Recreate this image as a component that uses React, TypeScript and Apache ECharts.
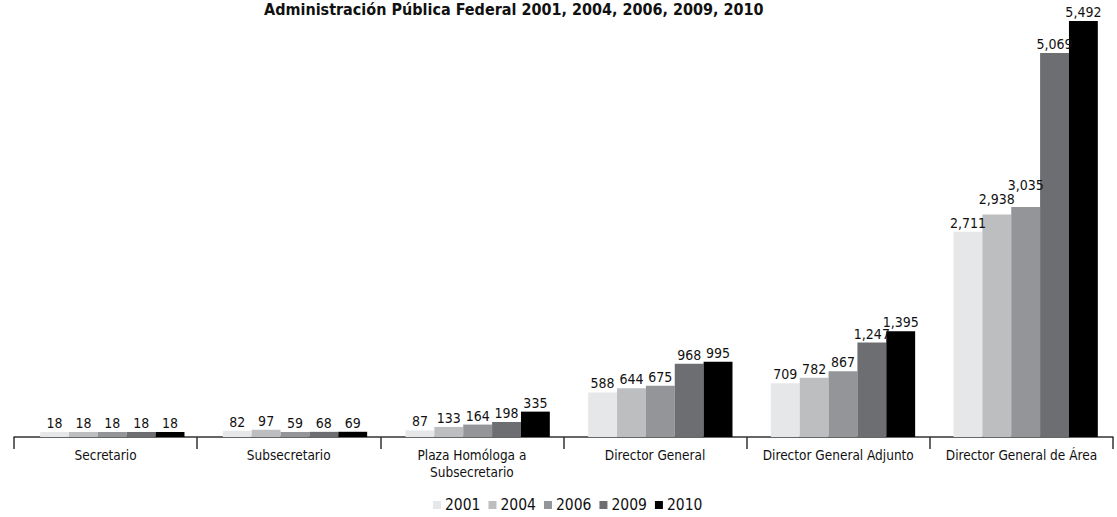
import React, { useEffect, useRef } from "react";
import * as echarts from "echarts";

const categories = [
  "Secretario",
  "Subsecretario",
  "Plaza Homóloga a\nSubsecretario",
  "Director General",
  "Director General Adjunto",
  "Director General de Área",
];
const years = ["2001", "2004", "2006", "2009", "2010"];
const v2001 = [18, 82, 87, 588, 709, 2711];
const v2004 = [18, 97, 133, 644, 782, 2938];
const v2006 = [18, 59, 164, 675, 867, 3035];
const v2009 = [18, 68, 198, 968, 1247, 5069];
const v2010 = [18, 69, 335, 995, 1395, 5492];
const seriesValues = [v2001, v2004, v2006, v2009, v2010];
const colors = ["#e6e7e8", "#bcbec0", "#939598", "#6d6e71", "#000000"];

// extra label lift (style only) to stagger crowded labels like the reference
const labelLift: Record<string, number> = { "1-5": 6, "2-5": 13 };

const FONT = "'DejaVu Sans Condensed', 'Liberation Sans Narrow', Roboto, sans-serif";

export default function App() {
  const ref = useRef<HTMLDivElement>(null);
  useEffect(() => {
    if (!ref.current) return;
    const chart = echarts.init(ref.current, undefined, { renderer: "svg" });
    chart.setOption({
      animation: false,
      textStyle: { fontFamily: FONT },
      title: {
        text: "Administración Pública Federal 2001, 2004, 2006, 2009, 2010",
        left: 264,
        top: 1,
        padding: 0,
        textStyle: { fontFamily: FONT, fontSize: 16, fontWeight: "bold", color: "#111" },
      },
      legend: {
        data: years,
        left: 433,
        top: 497,
        padding: 0,
        icon: "rect",
        itemWidth: 8,
        itemHeight: 8,
        itemGap: 8,
        textStyle: { fontFamily: FONT, fontSize: 15.5, color: "#111", padding: [0, 0, 0, -1] },
      },
      grid: [
        { left: 21, right: -3, top: 21, bottom: 80, containLabel: false },
        { left: 14, right: 4, top: 21, bottom: 80, containLabel: false },
      ],
      xAxis: [
        {
          type: "category",
          gridIndex: 0,
          data: categories,
          show: false,
        },
        {
          type: "category",
          gridIndex: 1,
          data: categories,
          offset: 3,
          axisLine: { lineStyle: { color: "#333", width: 1.5 } },
          axisTick: { show: true, length: 12, lineStyle: { color: "#333", width: 1.5 } },
          axisLabel: { fontFamily: FONT, fontSize: 13.5, color: "#111", margin: 6, lineHeight: 17, interval: 0 },
        },
      ],
      yAxis: [
        { type: "value", gridIndex: 0, min: 0, max: 5492, show: false, splitLine: { show: false } },
        { type: "value", gridIndex: 1, min: 0, max: 5492, show: false, splitLine: { show: false } },
      ],
      series: years.map((y, i) => ({
        name: y,
        type: "bar",
        xAxisIndex: 0,
        yAxisIndex: 0,
        data: seriesValues[i].map((v, j) => {
          const lift = labelLift[`${i}-${j}`];
          return lift ? { value: v, label: { distance: 2 + lift } } : v;
        }),
        barGap: "0%",
        barCategoryGap: "21%",
        barMinHeight: 5,
        itemStyle: { color: colors[i] },
        label: {
          show: true,
          position: "top",
          distance: 2,
          fontFamily: FONT,
          fontSize: 14,
          color: "#111",
          formatter: (p: any) => Number(p.value).toLocaleString("en-US"),
        },
      })),
    });
    return () => chart.dispose();
  }, []);
  return <div ref={ref} style={{ width: 1117, height: 517, position: "absolute", left: 0, top: 0 }} />;
}
